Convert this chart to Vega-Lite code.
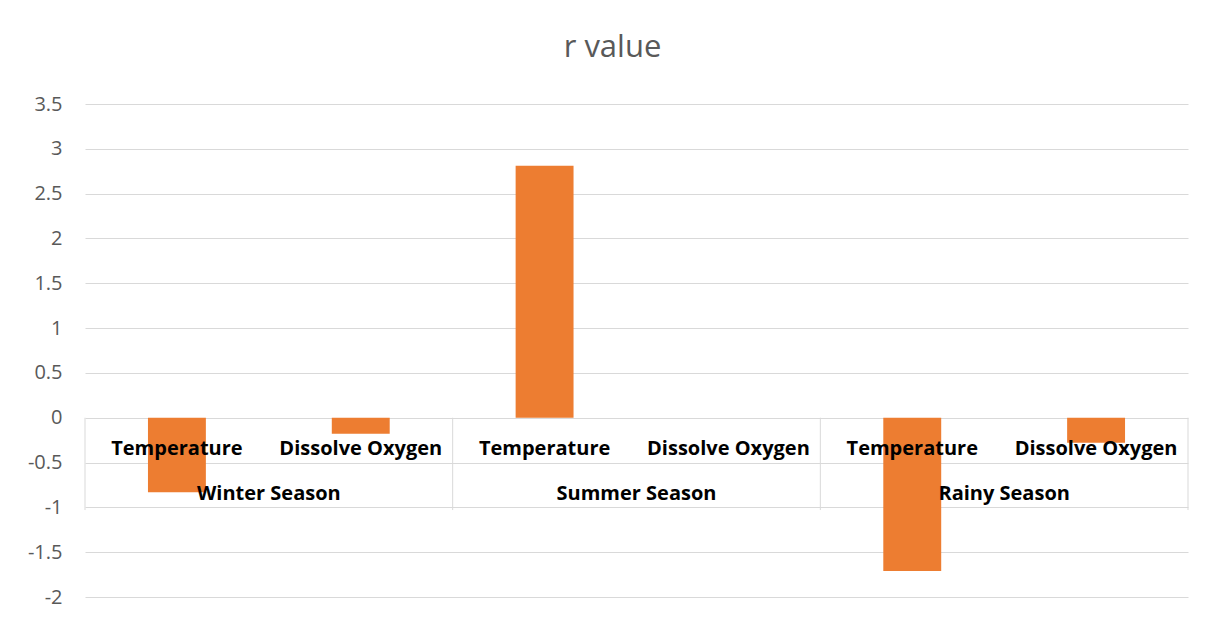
{
  "$schema": "https://vega.github.io/schema/vega-lite/v6.json",
  "autosize": {"type": "none"},
  "width": 1103,
  "height": 493,
  "padding": {"left": 85, "top": 104, "right": 22, "bottom": 23},
  "background": "white",
  "config": {"view": {"stroke": null}, "font": "Open Sans"},
  "title": {
    "text": "r value",
    "font": "Open Sans",
    "fontSize": 31,
    "fontWeight": "normal",
    "color": "#595959",
    "anchor": "middle",
    "dx": -24,
    "offset": 30
  },
  "data": {
    "values": [
      {"season": "Winter Season", "parameter": "Temperature", "r": -0.83},
      {"season": "Winter Season", "parameter": "Dissolve Oxygen", "r": -0.18},
      {"season": "Summer Season", "parameter": "Temperature", "r": 2.81},
      {"season": "Summer Season", "parameter": "Dissolve Oxygen", "r": 0},
      {"season": "Rainy Season", "parameter": "Temperature", "r": -1.71},
      {"season": "Rainy Season", "parameter": "Dissolve Oxygen", "r": -0.28}
    ]
  },
  "encoding": {
    "x": {
      "field": "season",
      "type": "nominal",
      "sort": ["Winter Season", "Summer Season", "Rainy Season"],
      "scale": {"paddingInner": 0, "paddingOuter": 0},
      "axis": null
    }
  },
  "layer": [
    {
      "mark": {"type": "bar", "color": "#ED7D31"},
      "encoding": {
        "xOffset": {
          "field": "parameter",
          "type": "nominal",
          "sort": ["Temperature", "Dissolve Oxygen"],
          "scale": {"paddingInner": 0.685, "paddingOuter": 0.3425}
        },
        "y": {
          "field": "r",
          "type": "quantitative",
          "scale": {"domain": [-2, 3.5], "nice": false, "zero": false},
          "axis": {
            "title": null,
            "values": [-2, -1.5, -1, -0.5, 0, 0.5, 1, 1.5, 2, 2.5, 3, 3.5],
            "labelExpr": "'' + datum.value",
            "grid": true,
            "gridColor": "#d9d9d9",
            "gridWidth": 1,
            "domain": false,
            "ticks": false,
            "labelColor": "#595959",
            "labelFont": "Open Sans",
            "labelFontSize": 20,
            "labelPadding": 23
          }
        }
      }
    },
    {
      "transform": [{"filter": "datum.parameter === 'Temperature'"}],
      "mark": {"type": "rule", "color": "#d9d9d9", "strokeWidth": 1},
      "encoding": {
        "x": {"field": "season", "type": "nominal", "sort": ["Winter Season", "Summer Season", "Rainy Season"], "bandPosition": 0},
        "y": {"datum": 0},
        "y2": {"datum": -1.03}
      }
    },
    {
      "transform": [{"filter": "datum.parameter === 'Temperature' && datum.season === 'Rainy Season'"}],
      "mark": {"type": "rule", "color": "#d9d9d9", "strokeWidth": 1},
      "encoding": {
        "x": {"field": "season", "type": "nominal", "sort": ["Winter Season", "Summer Season", "Rainy Season"], "bandPosition": 1},
        "y": {"datum": 0},
        "y2": {"datum": -1.03}
      }
    },
    {
      "mark": {"type": "text", "font": "Open Sans", "fontSize": 20, "fontWeight": "bold", "color": "#000000", "baseline": "middle", "align": "center"},
      "encoding": {
        "xOffset": {
          "field": "parameter",
          "type": "nominal",
          "sort": ["Temperature", "Dissolve Oxygen"],
          "scale": {"paddingInner": 0.685, "paddingOuter": 0.3425}
        },
        "y": {"datum": -0.35},
        "text": {"field": "parameter"}
      }
    },
    {
      "transform": [{"filter": "datum.parameter === 'Temperature'"}],
      "mark": {"type": "text", "font": "Open Sans", "fontSize": 20, "fontWeight": "bold", "color": "#000000", "baseline": "middle", "align": "center"},
      "encoding": {
        "y": {"datum": -0.85},
        "text": {"field": "season"}
      }
    }
  ]
}
